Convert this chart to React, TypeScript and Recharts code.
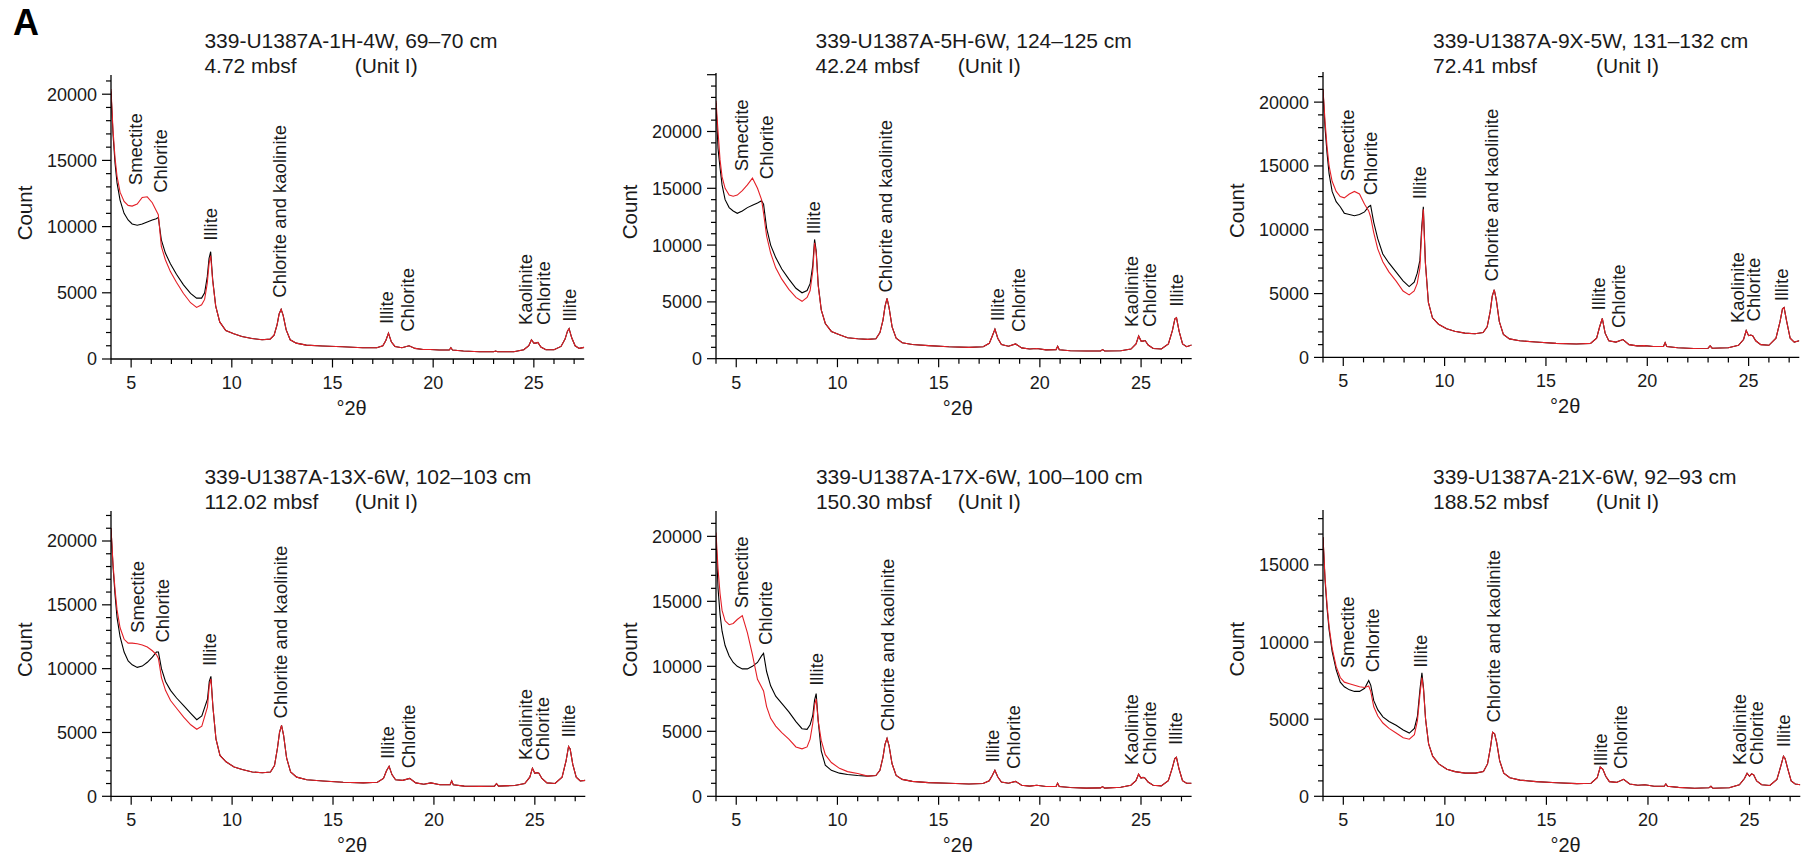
import React from 'react';
import { LineChart, Line, XAxis, YAxis, ReferenceDot } from 'recharts';

const FONT = '"Liberation Sans", Arial, Helvetica, sans-serif';
const TEXT = '#1a1a1a';
const RED = '#e41f26';
const BLACK = '#000000';

// °2θ sample positions (low-angle part, where the two scans differ)
const HEAD_X = [4.0, 4.1, 4.2, 4.3, 4.45, 4.65, 4.85, 5.05, 5.3, 5.55, 5.8, 6.05, 6.25, 6.35, 6.5, 6.7, 6.95, 7.25, 7.6, 7.95, 8.25, 8.5, 8.65, 8.78, 8.87, 8.95, 9.05, 9.2, 9.4, 9.7, 10.1, 10.5, 11.0];
// °2θ sample positions (high-angle part, where the two scans coincide)
const TAIL_X = [11.5, 11.9, 12.1, 12.25, 12.35, 12.45, 12.55, 12.7, 12.9, 13.2, 13.7, 14.5, 15.5, 16.5, 17.2, 17.5, 17.65, 17.78, 17.92, 18.1, 18.45, 18.8, 19.1, 19.5, 19.85, 20.3, 20.8, 20.88, 20.96, 21.5, 22.3, 23.0, 23.1, 23.2, 24.0, 24.5, 24.75, 24.88, 25.0, 25.1, 25.2, 25.35, 25.6, 26.0, 26.35, 26.55, 26.67, 26.75, 26.88, 27.05, 27.25, 27.5];

const X_MAJOR = [5, 10, 15, 20, 25];
const X_TICKS = [4, 5, 6, 7, 8, 9, 10, 11, 12, 13, 14, 15, 16, 17, 18, 19, 20, 21, 22, 23, 24, 25, 26, 27];

const PEAK_NAMES = ['Smectite', 'Chlorite', 'Illite', 'Chlorite and kaolinite', 'Illite', 'Chlorite', 'Kaolinite', 'Chlorite', 'Illite'];

// Panel 1: 339-U1387A-1H-4W
const P1_BLACK_HEAD = [20200, 17000, 14800, 13300, 12000, 11000, 10500, 10200, 10100, 10200, 10350, 10500, 10600, 10700, 9000, 8000, 7200, 6400, 5600, 4950, 4600, 4600, 5000, 6200, 7600, 8100, 6000, 4000, 2800, 2150, 1900, 1700, 1550];
const P1_RED_HEAD = [20400, 17300, 15200, 13800, 12600, 11900, 11600, 11550, 11700, 12200, 12250, 11800, 11200, 10900, 8500, 7500, 6600, 5800, 4950, 4250, 3900, 4100, 4500, 5700, 7200, 7800, 5900, 4000, 2800, 2150, 1900, 1700, 1550];
const P1_TAIL = [1450, 1500, 1800, 2600, 3400, 3750, 3300, 2200, 1450, 1200, 1050, 980, 920, 850, 850, 1000, 1400, 1950, 1300, 950, 850, 1000, 800, 720, 720, 680, 680, 850, 680, 600, 550, 550, 600, 550, 550, 700, 1000, 1450, 1200, 1200, 1250, 900, 700, 700, 950, 1500, 2100, 2300, 1600, 1000, 800, 880];
const P1_LABEL_X = [5.21, 6.43, 8.94, 12.35, 17.66, 18.72, 24.56, 25.45, 26.74];
const P1_LABEL_Y = [13130, 12550, 8930, 4630, 2640, 2060, 2570, 2570, 2820];

// Panel 2: 339-U1387A-5H-6W
const P2_BLACK_HEAD = [22500, 18500, 16800, 15300, 14000, 13300, 13000, 12800, 13000, 13300, 13500, 13700, 13900, 13600, 11500, 10000, 8900, 7900, 7000, 6200, 5800, 6000, 6600, 8200, 10500, 9500, 6500, 4300, 3100, 2400, 2100, 1850, 1750];
const P2_RED_HEAD = [22700, 20000, 17500, 16000, 15000, 14400, 14300, 14400, 14800, 15300, 15900, 15000, 14000, 12800, 10800, 9300, 8000, 7000, 6100, 5400, 5050, 5400, 6000, 7700, 10200, 9300, 6400, 4300, 3100, 2400, 2100, 1850, 1750];
const P2_TAIL = [1700, 1750, 2300, 3400, 4600, 5300, 4500, 2800, 1800, 1400, 1250, 1150, 1050, 1000, 1050, 1350, 2000, 2600, 1800, 1250, 1100, 1300, 950, 850, 900, 780, 800, 1100, 780, 700, 680, 680, 800, 680, 700, 850, 1300, 2000, 1550, 1550, 1600, 1200, 900, 850, 1300, 2500, 3500, 3600, 2400, 1300, 1050, 1200];
const P2_LABEL_X = [5.23, 6.51, 8.82, 12.38, 17.88, 18.93, 24.53, 25.39, 26.72];
const P2_LABEL_Y = [16500, 15800, 10960, 5830, 3300, 2360, 2800, 2800, 4570];

// Panel 3: 339-U1387A-9X-5W
const P3_BLACK_HEAD = [21000, 18000, 16000, 14400, 13000, 12200, 11800, 11300, 11200, 11100, 11200, 11400, 11800, 11900, 10600, 9300, 8100, 7400, 6700, 6000, 5550, 5900, 6600, 7600, 10200, 11800, 7500, 4300, 3100, 2600, 2250, 2050, 1900];
const P3_RED_HEAD = [21000, 18500, 16500, 15000, 13800, 13000, 12600, 12500, 12800, 13000, 12800, 12000, 11500, 11000, 9800, 8500, 7500, 6700, 6000, 5200, 4900, 5200, 5800, 7000, 9800, 11600, 7400, 4300, 3100, 2600, 2250, 2050, 1900];
const P3_TAIL = [1850, 1950, 2400, 3600, 4800, 5300, 4500, 2800, 1800, 1450, 1300, 1200, 1100, 1050, 1100, 1500, 2400, 3050, 1900, 1300, 1200, 1400, 1000, 900, 920, 850, 850, 1150, 850, 750, 700, 720, 900, 720, 750, 950, 1400, 2100, 1700, 1750, 1700, 1300, 1000, 950, 1500, 2800, 3800, 3900, 2800, 1500, 1200, 1300];
const P3_LABEL_X = [5.19, 6.35, 8.77, 12.29, 17.57, 18.58, 24.42, 25.25, 26.6];
const P3_LABEL_Y = [13800, 12700, 12400, 5950, 3680, 2300, 2690, 2820, 4390];

// Panel 4: 339-U1387A-13X-6W
const P4_BLACK_HEAD = [21000, 18000, 15800, 14000, 12500, 11300, 10600, 10300, 10100, 10200, 10500, 10900, 11300, 11300, 10000, 9000, 8300, 7700, 7100, 6500, 6000, 6300, 7000, 7600, 9000, 9400, 7000, 4500, 3200, 2700, 2300, 2100, 1900];
const P4_RED_HEAD = [21000, 18200, 16200, 14600, 13200, 12300, 12000, 12000, 11950, 11850, 11700, 11400, 11100, 10800, 9300, 8300, 7500, 6900, 6200, 5600, 5250, 5500, 6300, 7000, 8700, 9200, 7000, 4500, 3200, 2700, 2300, 2100, 1900];
const P4_TAIL = [1850, 1900, 2400, 3800, 5000, 5550, 4800, 3000, 1900, 1500, 1300, 1200, 1100, 1050, 1100, 1400, 2000, 2350, 1700, 1300, 1250, 1400, 1050, 950, 1050, 900, 900, 1200, 900, 800, 780, 800, 1000, 800, 850, 1000, 1500, 2200, 1800, 1850, 1800, 1400, 1050, 1000, 1500, 2800, 3900, 3700, 2500, 1500, 1200, 1250];
const P4_LABEL_X = [5.31, 6.52, 8.89, 12.41, 17.7, 18.72, 24.51, 25.39, 26.67];
const P4_LABEL_Y = [12800, 12040, 10200, 6100, 2920, 2190, 2850, 2790, 4600];

// Panel 5: 339-U1387A-17X-6W
const P5_BLACK_HEAD = [20000, 16000, 14000, 12700, 11600, 10800, 10300, 10000, 9800, 9800, 10000, 10300, 10800, 11000, 9600, 8500, 7700, 7150, 6500, 5750, 5200, 5150, 5500, 6200, 7400, 7900, 5800, 3500, 2400, 2000, 1780, 1680, 1600];
const P5_RED_HEAD = [20300, 17500, 15600, 14300, 13500, 13200, 13300, 13600, 13900, 12600, 10900, 9000, 8400, 8100, 6900, 6000, 5400, 4900, 4400, 3800, 3650, 3800, 4400, 5600, 7000, 7500, 5800, 4300, 3200, 2600, 2150, 1900, 1750];
const P5_TAIL = [1550, 1600, 2000, 3000, 4000, 4450, 3900, 2500, 1600, 1300, 1150, 1050, 1000, 950, 980, 1200, 1600, 2000, 1500, 1100, 1000, 1150, 850, 780, 850, 750, 750, 1000, 750, 680, 630, 650, 750, 630, 700, 850, 1200, 1700, 1400, 1450, 1400, 1100, 850, 800, 1200, 2200, 2900, 3000, 2100, 1200, 1000, 1000];
const P5_LABEL_X = [5.23, 6.43, 8.95, 12.49, 17.67, 18.69, 24.51, 25.39, 26.7];
const P5_LABEL_Y = [14460, 11640, 8500, 5000, 2600, 2100, 2400, 2400, 3950];

// Panel 6: 339-U1387A-21X-6W
const P6_BLACK_HEAD = [16800, 14000, 12200, 10800, 9400, 8200, 7400, 7100, 6900, 6800, 6800, 7000, 7500, 7200, 6200, 5600, 5150, 4850, 4600, 4300, 4100, 4400, 5200, 7000, 8000, 7000, 5000, 3400, 2600, 2100, 1750, 1600, 1500];
const P6_RED_HEAD = [16800, 14200, 12400, 11000, 9600, 8400, 7700, 7400, 7300, 7200, 7100, 7050, 7150, 6800, 5800, 5200, 4750, 4400, 4100, 3800, 3700, 4000, 4900, 6700, 7700, 6900, 5000, 3400, 2600, 2100, 1750, 1600, 1500];
const P6_TAIL = [1500, 1600, 2100, 3200, 4150, 4050, 3500, 2300, 1500, 1200, 1050, 950, 880, 820, 850, 1200, 1900, 1750, 1300, 950, 900, 1100, 800, 720, 750, 650, 650, 800, 650, 580, 520, 550, 650, 520, 550, 750, 1150, 1500, 1300, 1450, 1400, 1000, 750, 700, 1100, 2000, 2600, 2450, 1800, 1000, 800, 750];
const P6_LABEL_X = [5.21, 6.41, 8.79, 12.37, 17.65, 18.66, 24.5, 25.33, 26.68];
const P6_LABEL_Y = [8300, 8040, 8340, 4780, 1950, 1770, 2030, 2030, 3180];

const TITLES = ['339-U1387A-1H-4W, 69–70 cm', '339-U1387A-5H-6W, 124–125 cm', '339-U1387A-9X-5W, 131–132 cm', '339-U1387A-13X-6W, 102–103 cm', '339-U1387A-17X-6W, 100–100 cm', '339-U1387A-21X-6W, 92–93 cm'];
const DEPTHS = ['4.72 mbsf', '42.24 mbsf', '72.41 mbsf', '112.02 mbsf', '150.30 mbsf', '188.52 mbsf'];
const UNIT = '(Unit I)';
const Y_MAX = [21450, 25150, 22360, 22350, 21950, 18560];
const Y_LABEL_MAX = [20000, 20000, 20000, 20000, 20000, 15000];

type Panel = {
  blackHead: number[]; redHead: number[]; tail: number[];
  labelX: number[]; labelY: number[];
  left: number; top: number; w: number; h: number;
  titleX: number; titleY: number; unitX: number;
};

const PANELS: Panel[] = [
  { blackHead: P1_BLACK_HEAD, redHead: P1_RED_HEAD, tail: P1_TAIL, labelX: P1_LABEL_X, labelY: P1_LABEL_Y, left: 110.8, top: 75, w: 473.2, h: 284, titleX: 204.4, titleY: 48.3, unitX: 354.7 },
  { blackHead: P2_BLACK_HEAD, redHead: P2_RED_HEAD, tail: P2_TAIL, labelX: P2_LABEL_X, labelY: P2_LABEL_Y, left: 716.2, top: 73.3, w: 475.7, h: 285.7, titleX: 815.5, titleY: 48.3, unitX: 957.8 },
  { blackHead: P3_BLACK_HEAD, redHead: P3_RED_HEAD, tail: P3_TAIL, labelX: P3_LABEL_X, labelY: P3_LABEL_Y, left: 1323, top: 72.3, w: 476.3, h: 285.4, titleX: 1433, titleY: 48.3, unitX: 1596 },
  { blackHead: P4_BLACK_HEAD, redHead: P4_RED_HEAD, tail: P4_TAIL, labelX: P4_LABEL_X, labelY: P4_LABEL_Y, left: 110.5, top: 511, w: 474.3, h: 285.3, titleX: 204.4, titleY: 484.3, unitX: 354.7 },
  { blackHead: P5_BLACK_HEAD, redHead: P5_RED_HEAD, tail: P5_TAIL, labelX: P5_LABEL_X, labelY: P5_LABEL_Y, left: 716.3, top: 511, w: 475.6, h: 285.3, titleX: 815.9, titleY: 483.8, unitX: 957.8 },
  { blackHead: P6_BLACK_HEAD, redHead: P6_RED_HEAD, tail: P6_TAIL, labelX: P6_LABEL_X, labelY: P6_LABEL_Y, left: 1322.7, top: 510, w: 477.3, h: 286.3, titleX: 1433, titleY: 484.3, unitX: 1596 },
];

const LEFT_W = 100;
const TOP_M = 10;
const RIGHT_M = 10;
const BOTTOM_H = 65;

const XTick = (props: any) => {
  const { x, y, payload } = props;
  const v = payload.value;
  const major = X_MAJOR.includes(v);
  return (
    <g>
      <line x1={x} x2={x} y1={y} y2={y + (major ? 8.5 : 5)} stroke={BLACK} strokeWidth={1.2} />
      {major && (
        <text x={x} y={y + 30} textAnchor="middle" fontSize={18} fontFamily={FONT} fill={TEXT}>{v}</text>
      )}
    </g>
  );
};

const makeYTick = (labelMax: number) => (props: any) => {
  const { x, y, payload } = props;
  const v = payload.value;
  const major = v % 5000 === 0;
  const labelled = major && v <= labelMax;
  return (
    <g>
      <line x1={x - (major ? 9 : 5)} x2={x} y1={y} y2={y} stroke={BLACK} strokeWidth={1.2} />
      {labelled && (
        <text x={x - 14} y={y + 6.5} textAnchor="end" fontSize={18} fontFamily={FONT} fill={TEXT}>{v}</text>
      )}
    </g>
  );
};

const xLabel = (props: any) => {
  const vb = props.viewBox;
  return (
    <text x={vb.x + vb.width / 2 + 4} y={vb.y + 56} textAnchor="middle" fontSize={20} fontFamily={FONT} fill={TEXT}>°2θ</text>
  );
};

const yLabel = (props: any) => {
  const vb = props.viewBox;
  const cx = vb.x + vb.width - 86;
  const cy = vb.y + vb.height / 2 - 4;
  return (
    <text x={cx} y={cy} dy="0.36em" transform={`rotate(-90 ${cx} ${cy})`} textAnchor="middle" fontSize={20.5} fontFamily={FONT} fill={TEXT}>Count</text>
  );
};

const peakShape = (text: string) => (props: any) => {
  const { cx, cy } = props;
  return (
    <text x={cx} y={cy} dy="0.36em" transform={`rotate(-90 ${cx} ${cy})`} textAnchor="start" fontSize={18.5} fontFamily={FONT} fill={TEXT}>{text}</text>
  );
};

const yTicksFor = (max: number) => {
  const out: number[] = [];
  for (let v = 0; v <= max; v += 1000) out.push(v);
  return out;
};

const PanelChart = ({ p, idx }: { p: Panel; idx: number }) => {
  const data = [
    ...HEAD_X.map((x, i) => ({ x, b: p.blackHead[i], r: p.redHead[i] })),
    ...TAIL_X.map((x, i) => ({ x, b: p.tail[i], r: p.tail[i] })),
  ];
  const yMax = Y_MAX[idx];
  return (
    <div style={{ position: 'absolute', left: p.left - LEFT_W, top: p.top - TOP_M }}>
      <LineChart width={p.w + LEFT_W + RIGHT_M} height={p.h + TOP_M + BOTTOM_H} data={data} margin={{ top: TOP_M, right: RIGHT_M, bottom: 0, left: 0 }}>
        <XAxis type="number" dataKey="x" domain={[4, 27.5]} ticks={X_TICKS} interval={0} allowDataOverflow
          tickLine={false} tickSize={0} tickMargin={0} height={BOTTOM_H}
          axisLine={{ stroke: BLACK, strokeWidth: 1.3 }} tick={XTick} label={xLabel} />
        <YAxis type="number" domain={[0, yMax]} ticks={yTicksFor(yMax)} interval={0} allowDataOverflow
          tickLine={false} tickSize={0} tickMargin={0} width={LEFT_W}
          axisLine={{ stroke: BLACK, strokeWidth: 1.3 }} tick={makeYTick(Y_LABEL_MAX[idx])} label={yLabel} />
        <Line type="linear" dataKey="b" stroke={BLACK} strokeWidth={1.1} dot={false} isAnimationActive={false} />
        <Line type="linear" dataKey="r" stroke={RED} strokeWidth={1.1} dot={false} isAnimationActive={false} />
        {PEAK_NAMES.map((name, i) => (
          <ReferenceDot key={i} x={p.labelX[i]} y={p.labelY[i]} r={0} ifOverflow="visible" shape={peakShape(name)} />
        ))}
      </LineChart>
    </div>
  );
};

export default function App() {
  return (
    <div style={{ position: 'absolute', left: 0, top: 0, width: 1816, height: 865, background: '#fff', overflow: 'hidden' }}>
      {PANELS.map((p, i) => <PanelChart key={i} p={p} idx={i} />)}
      <svg width={1816} height={865} style={{ position: 'absolute', left: 0, top: 0, pointerEvents: 'none' }}>
        <text x={13} y={35} fontSize={36} fontWeight="bold" fontFamily={FONT} fill={BLACK}>A</text>
        {PANELS.map((p, i) => (
          <g key={i}>
            <text x={p.titleX} y={p.titleY} fontSize={21} fontFamily={FONT} fill={TEXT}>{TITLES[i]}</text>
            <text x={p.titleX} y={p.titleY + 25} fontSize={21} fontFamily={FONT} fill={TEXT}>{DEPTHS[i]}</text>
            <text x={p.unitX} y={p.titleY + 25} fontSize={21} fontFamily={FONT} fill={TEXT}>{UNIT}</text>
          </g>
        ))}
      </svg>
    </div>
  );
}
